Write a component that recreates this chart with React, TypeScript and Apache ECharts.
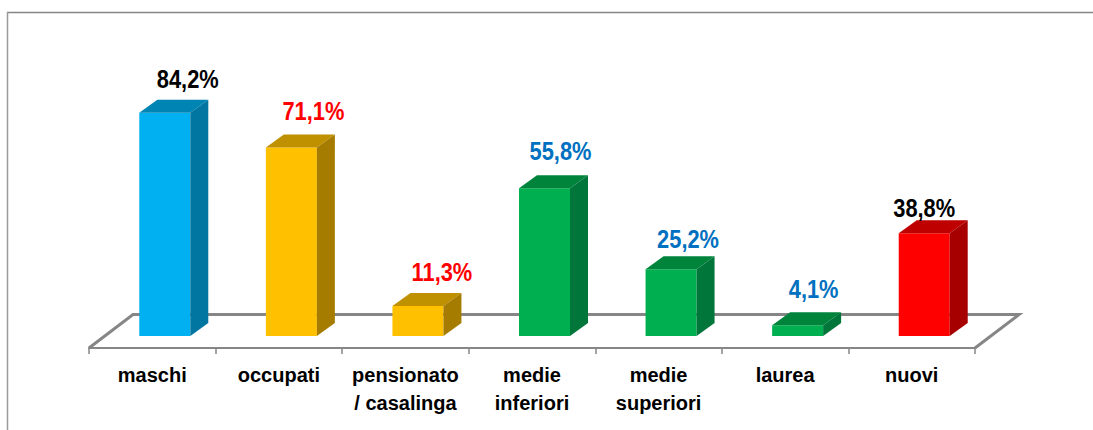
import React, { useEffect, useRef } from "react";
import * as echarts from "echarts";

const categories = ["maschi", "occupati", "pensionato\n/ casalinga", "medie\ninferiori", "medie\nsuperiori", "laurea", "nuovi"];
const values = [84.2, 71.1, 11.3, 55.8, 25.2, 4.1, 38.8];
const frontColors = ["#00B0F0", "#FFC000", "#FFC000", "#00B050", "#00B050", "#00B050", "#FF0000"];
const topColors = ["#0084B4", "#BF9000", "#BF9000", "#00843C", "#00843C", "#00843C", "#BF0000"];
const sideColors = ["#0076A1", "#A67C00", "#A67C00", "#00763A", "#00763A", "#00763A", "#A60000"];
const labelColors = ["#000000", "#FF0000", "#FF0000", "#0070C0", "#0070C0", "#0070C0", "#000000"];
const labelDx = [23, 22, 24, 16, 17, 16, 0];
const labelDy = [-21, -24, -21, -24, -17, -23, -12];

const FONT = '"Liberation Sans", Arial, sans-serif';
const GREY = "#868686";

export default function App() {
  const ref = useRef<HTMLDivElement>(null);
  useEffect(() => {
    const chart = echarts.init(ref.current!, undefined, { renderer: "svg" });
    chart.setOption({
      animation: false,
      backgroundColor: "#fff",
      grid: { left: 89, top: 71, width: 886, height: 265 },
      graphic: [
        { type: "line", z: 0, shape: { x1: 7, y1: 12.5, x2: 1093, y2: 12.5 }, style: { stroke: GREY, lineWidth: 1.5 } },
        { type: "line", z: 0, shape: { x1: 7.5, y1: 12, x2: 7.5, y2: 430 }, style: { stroke: "#9a9a9a", lineWidth: 1.5 } },
        { type: "polyline", z: 0, shape: { points: [[89, 348], [133, 314.5], [1019, 314.5], [975, 348]] }, style: { stroke: GREY, lineWidth: 3, fill: "none" } },
      ],
      xAxis: {
        type: "category",
        data: categories,
        offset: 12,
        boundaryGap: true,
        axisLine: { show: true, onZero: false, lineStyle: { color: GREY, width: 2 } },
        axisTick: { show: true, length: 6, lineStyle: { color: GREY, width: 1.5 } },
        axisLabel: { interval: 0, color: "#000", fontFamily: FONT, fontWeight: "bold", fontSize: 20, lineHeight: 28, margin: 13 },
      },
      yAxis: { type: "value", min: 0, max: 100, show: false },
      series: [
        {
          type: "custom",
          z: 5,
          data: values.map((v, i) => [i, v]),
          clip: false,
          renderItem: (_: any, api: any) => {
            const i = api.value(0);
            const v = api.value(1);
            const [cx, top] = api.coord([i, v]);
            const [, base] = api.coord([i, 0]);
            const x0 = cx - 13;
            const x1 = x0 + 51;
            const dx = 18;
            const dy = 13;
            const text = v.toFixed(1).replace(".", ",") + "%";
            return {
              type: "group",
              children: [
                { type: "rect", shape: { x: x0, y: top, width: 51, height: base - top }, style: { fill: frontColors[i] } },
                { type: "polygon", shape: { points: [[x0, top], [x0 + dx, top - dy], [x1 + dx, top - dy], [x1, top]] }, style: { fill: topColors[i] } },
                { type: "polygon", shape: { points: [[x1, top], [x1 + dx, top - dy], [x1 + dx, base - dy], [x1, base]] }, style: { fill: sideColors[i] } },
                {
                  type: "text",
                  x: x0 + 25.5 + labelDx[i],
                  y: top - dy + labelDy[i],
                  scaleX: 0.84,
                  style: {
                    x: 0,
                    y: 0,
                    text,
                    fill: labelColors[i],
                    font: `bold 26px ${FONT}`,
                    align: "center",
                    verticalAlign: "middle",
                  },
                },
              ],
            };
          },
        },
      ],
    });
    return () => chart.dispose();
  }, []);
  return <div ref={ref} style={{ position: "absolute", left: 0, top: 0, width: 1093, height: 430 }} />;
}
